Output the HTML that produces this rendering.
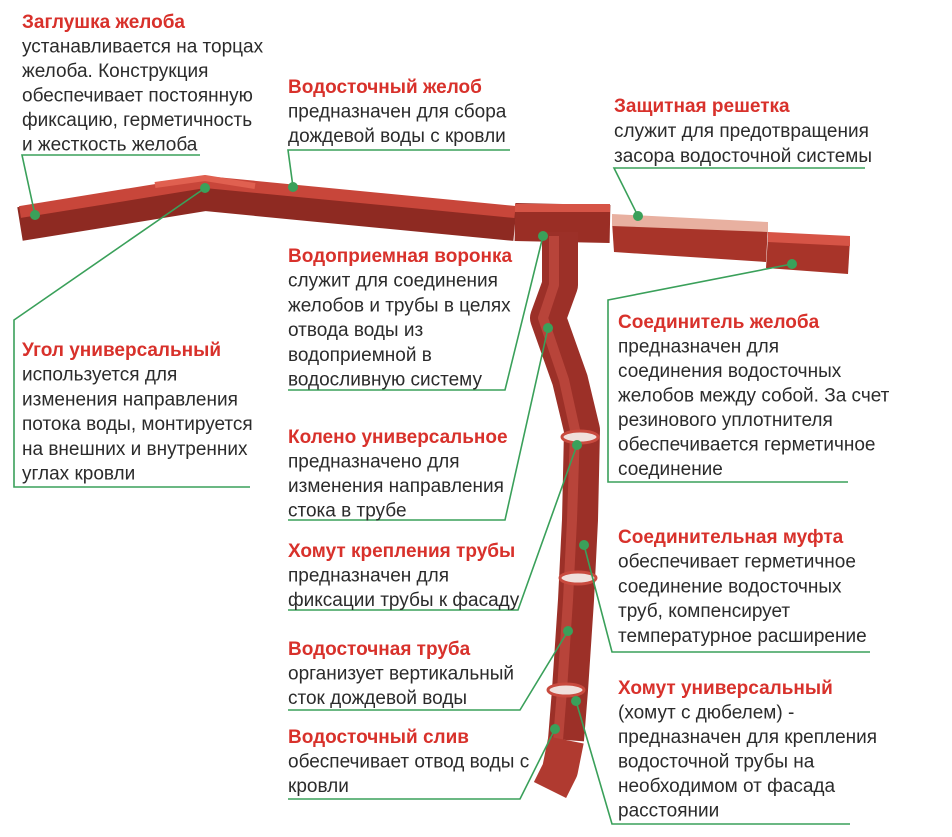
<!DOCTYPE html>
<html><head><meta charset="utf-8"><style>
html,body{margin:0;padding:0;background:#fff;}
svg{display:block}
text{font-family:"Liberation Sans","DejaVu Sans",sans-serif;font-size:19px;fill:#2b2b2b}
.t{font-weight:bold;fill:#d8312b}
</style></head><body>
<svg width="952" height="837" viewBox="0 0 952 837" xmlns="http://www.w3.org/2000/svg">
<g stroke-linecap="butt" stroke-linejoin="round" fill="none">
<polyline points="20,224 205,194 515,224" stroke="#8e2a22" stroke-width="34"/>
<polyline points="20,212 205,182 515,212" stroke="#c8463a" stroke-width="12"/>
<polyline points="155,185 205,178 255,186" stroke="#e06050" stroke-width="6"/>
<polyline points="515,222 610,224" stroke="#9a2e25" stroke-width="38"/>
<polyline points="515,208 610,208" stroke="#d65446" stroke-width="8"/>
<polygon points="612,222 768,226 766,262 614,252" fill="#a83429"/>
<polygon points="612,214 768,222 768,232 612,226" fill="#e8b0a0"/>
<polygon points="768,236 850,240 848,274 766,268" fill="#a83429"/>
<polygon points="768,232 850,236 850,246 768,242" fill="#d65446"/>
<polyline points="560,232 560,285 548,318 570,380 582,430 580,520 576,600 570,690 566,740" stroke="#9c3028" stroke-width="36"/>
<polyline points="554,236 554,285 543,318 564,380 575,430 572,520 568,600 562,690 558,740" stroke="#b8443a" stroke-width="10"/>
<polyline points="566,740 560,770 550,790" stroke="#b03a30" stroke-width="36"/>
</g>
<g fill="#f0e0dc" stroke="#c84a3e" stroke-width="3">
<ellipse cx="580" cy="437" rx="18" ry="6"/><ellipse cx="578" cy="578" rx="18" ry="6"/><ellipse cx="566" cy="690" rx="18" ry="6"/>
</g>
<g stroke="#3aa05a" stroke-width="1.6" fill="none">
<polyline points="200,155 22,155 35,215"/>
<polyline points="510,150 288,150 293,187"/>
<polyline points="865,168 614,168 638,216"/>
<polyline points="250,487 14,487 14,320 205,188"/>
<polyline points="288,390 505,390 543,236"/>
<polyline points="848,482 608,482 608,300 792,264"/>
<polyline points="288,520 505,520 548,328"/>
<polyline points="288,610 518,610 577,445"/>
<polyline points="870,652 612,652 584,545"/>
<polyline points="288,710 520,710 568,631"/>
<polyline points="850,824 612,824 576,701"/>
<polyline points="288,799 520,799 555,729"/>
</g>
<g fill="#3aa05a">
<circle cx="35" cy="215" r="5"/><circle cx="293" cy="187" r="5"/><circle cx="638" cy="216" r="5"/>
<circle cx="205" cy="188" r="5"/><circle cx="543" cy="236" r="5"/><circle cx="792" cy="264" r="5"/>
<circle cx="548" cy="328" r="5"/><circle cx="577" cy="445" r="5"/><circle cx="584" cy="545" r="5"/>
<circle cx="568" cy="631" r="5"/><circle cx="576" cy="701" r="5"/><circle cx="555" cy="729" r="5"/>
</g>
<text x="22" y="28"><tspan class="t">Заглушка желоба</tspan><tspan x="22" dy="24.5">устанавливается на торцах</tspan><tspan x="22" dy="24.5">желоба. Конструкция</tspan><tspan x="22" dy="24.5">обеспечивает постоянную</tspan><tspan x="22" dy="24.5">фиксацию, герметичность</tspan><tspan x="22" dy="24.5">и жесткость желоба</tspan></text>
<text x="288" y="93"><tspan class="t">Водосточный желоб</tspan><tspan x="288" dy="24.5">предназначен для сбора</tspan><tspan x="288" dy="24.5">дождевой воды с кровли</tspan></text>
<text x="614" y="112"><tspan class="t">Защитная решетка</tspan><tspan x="614" dy="25">служит для предотвращения</tspan><tspan x="614" dy="25">засора водосточной системы</tspan></text>
<text x="288" y="262"><tspan class="t">Водоприемная воронка</tspan><tspan x="288" dy="24.7">служит для соединения</tspan><tspan x="288" dy="24.7">желобов и трубы в целях</tspan><tspan x="288" dy="24.7">отвода воды из</tspan><tspan x="288" dy="24.7">водоприемной в</tspan><tspan x="288" dy="24.7">водосливную систему</tspan></text>
<text x="22" y="356"><tspan class="t">Угол универсальный</tspan><tspan x="22" dy="24.7">используется для</tspan><tspan x="22" dy="24.7">изменения направления</tspan><tspan x="22" dy="24.7">потока воды, монтируется</tspan><tspan x="22" dy="24.7">на внешних и внутренних</tspan><tspan x="22" dy="24.7">углах кровли</tspan></text>
<text x="618" y="328"><tspan class="t">Соединитель желоба</tspan><tspan x="618" dy="24.5">предназначен для</tspan><tspan x="618" dy="24.5">соединения водосточных</tspan><tspan x="618" dy="24.5">желобов между собой. За счет</tspan><tspan x="618" dy="24.5">резинового уплотнителя</tspan><tspan x="618" dy="24.5">обеспечивается герметичное</tspan><tspan x="618" dy="24.5">соединение</tspan></text>
<text x="288" y="443"><tspan class="t">Колено универсальное</tspan><tspan x="288" dy="24.5">предназначено для</tspan><tspan x="288" dy="24.5">изменения направления</tspan><tspan x="288" dy="24.5">стока в трубе</tspan></text>
<text x="288" y="557"><tspan class="t">Хомут крепления трубы</tspan><tspan x="288" dy="24.5">предназначен для</tspan><tspan x="288" dy="24.5">фиксации трубы к фасаду</tspan></text>
<text x="618" y="543"><tspan class="t">Соединительная муфта</tspan><tspan x="618" dy="24.7">обеспечивает герметичное</tspan><tspan x="618" dy="24.7">соединение водосточных</tspan><tspan x="618" dy="24.7">труб, компенсирует</tspan><tspan x="618" dy="24.7">температурное расширение</tspan></text>
<text x="288" y="655"><tspan class="t">Водосточная труба</tspan><tspan x="288" dy="24.5">организует вертикальный</tspan><tspan x="288" dy="24.5">сток дождевой воды</tspan></text>
<text x="618" y="694"><tspan class="t">Хомут универсальный</tspan><tspan x="618" dy="24.5">(хомут с дюбелем) -</tspan><tspan x="618" dy="24.5">предназначен для крепления</tspan><tspan x="618" dy="24.5">водосточной трубы на</tspan><tspan x="618" dy="24.5">необходимом от фасада</tspan><tspan x="618" dy="24.5">расстоянии</tspan></text>
<text x="288" y="743"><tspan class="t">Водосточный слив</tspan><tspan x="288" dy="24.5">обеспечивает отвод воды с</tspan><tspan x="288" dy="24.5">кровли</tspan></text>
</svg>
</body></html>
